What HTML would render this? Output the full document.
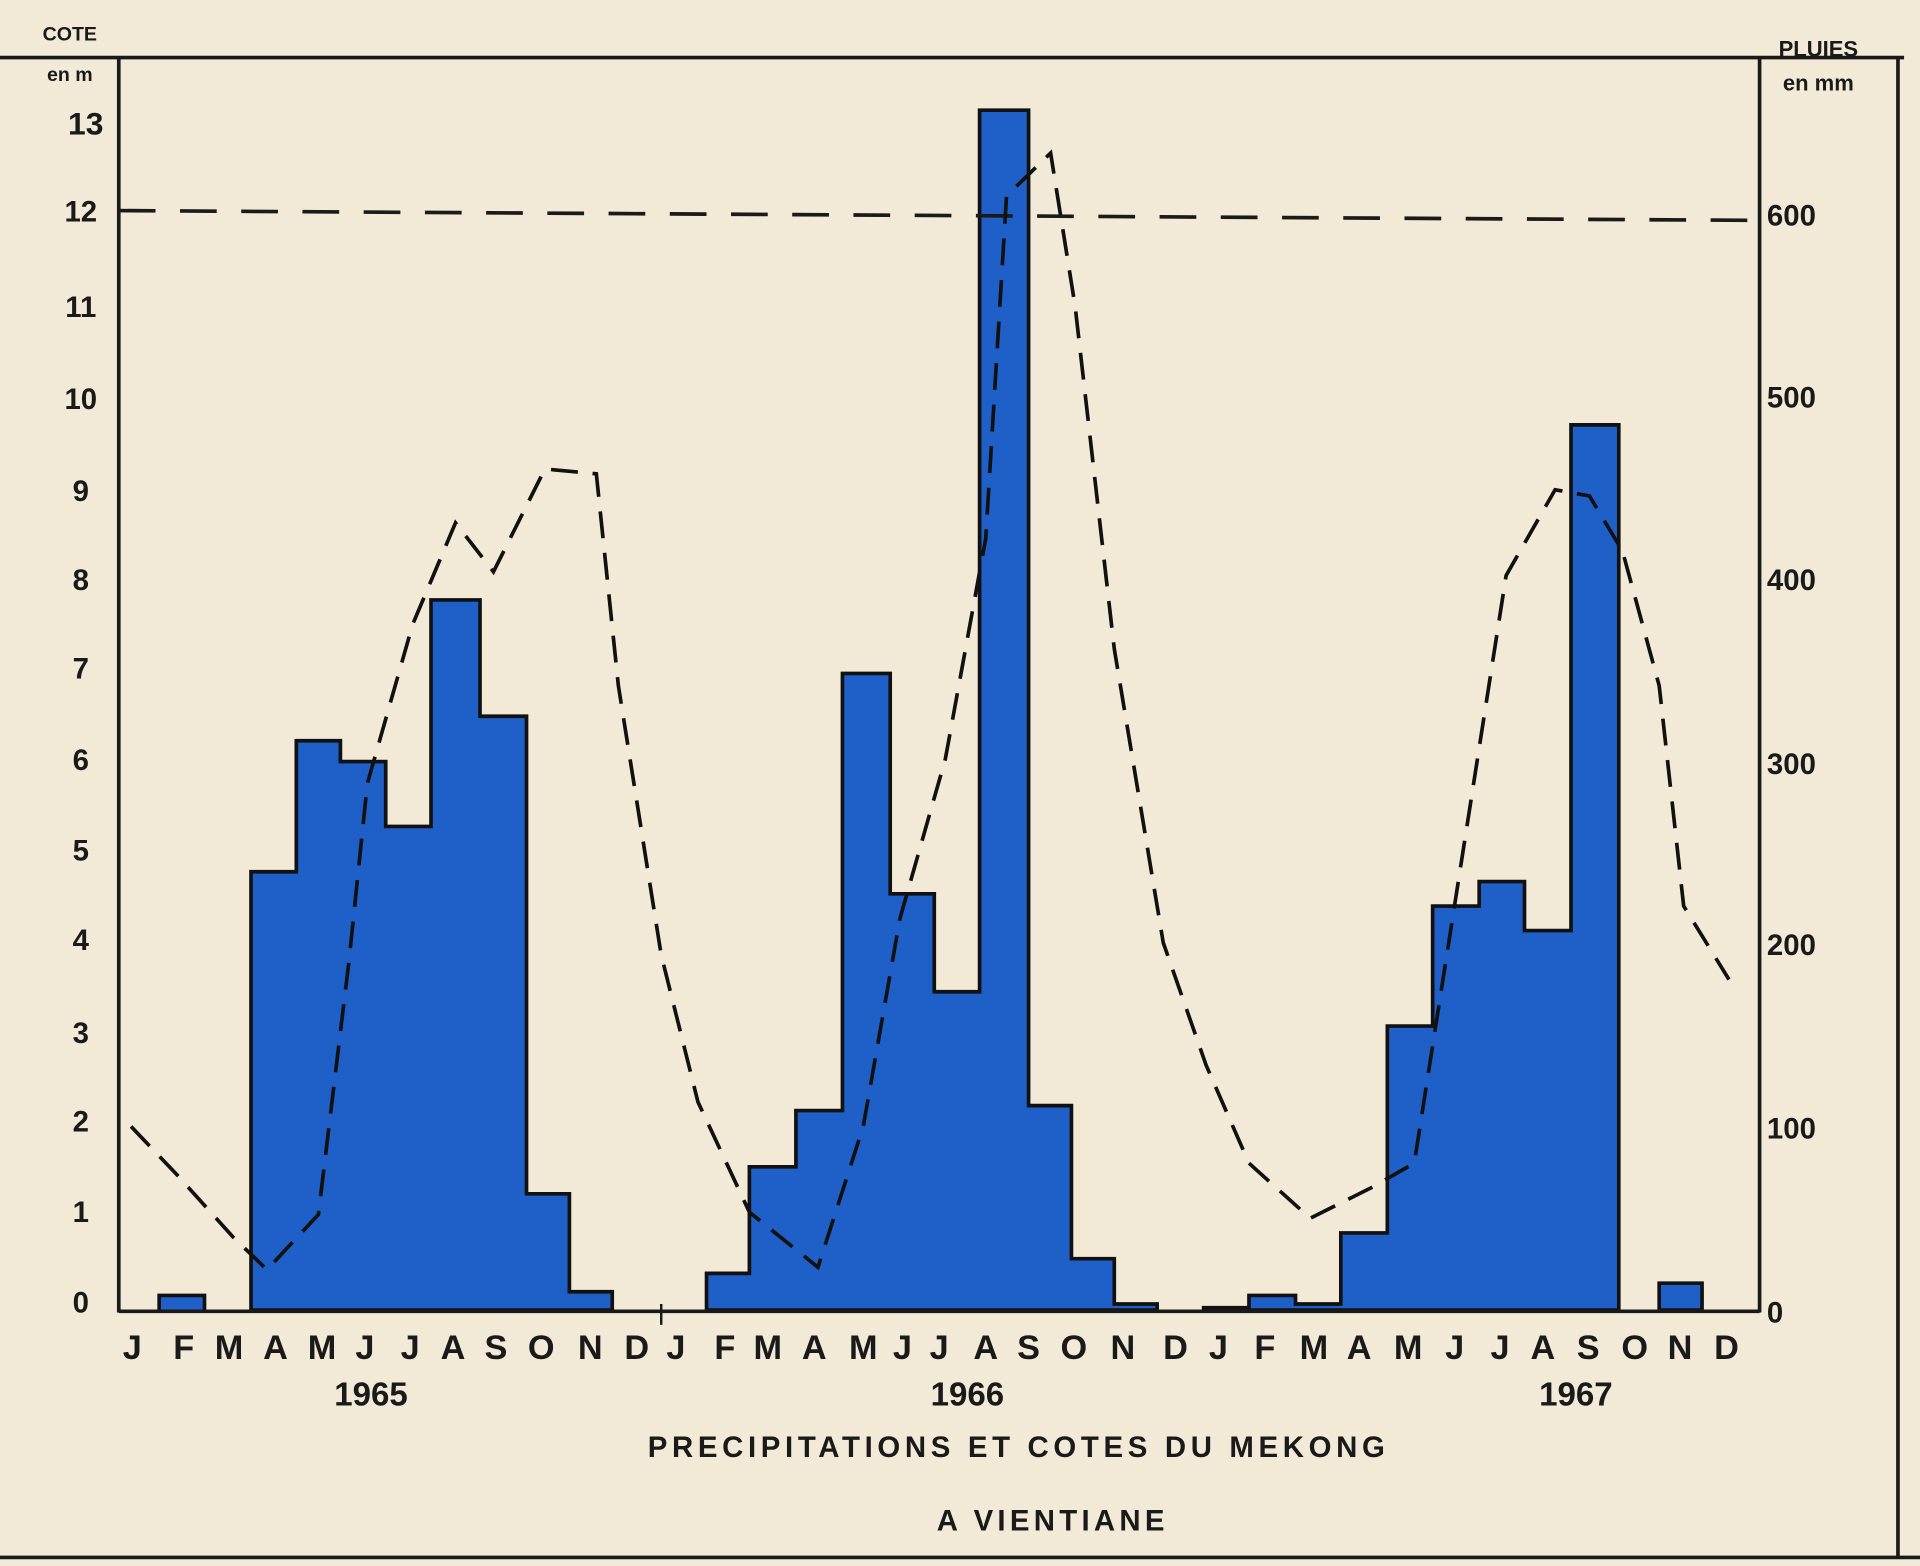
<!DOCTYPE html>
<html><head><meta charset="utf-8"><style>
html,body{margin:0;padding:0;background:#f2ead7;}
svg{display:block;}
text{font-family:"Liberation Sans",sans-serif;font-weight:bold;fill:#1a1a1a;}
</style></head><body>
<svg width="1920" height="1566" viewBox="0 0 1568 1279" preserveAspectRatio="none" xmlns="http://www.w3.org/2000/svg">
<rect width="1568" height="1279" fill="#f2ead7"/>
<g stroke="#1a1a1a" stroke-width="3" fill="none">
<line x1="0" y1="47" x2="1555" y2="47"/>
<line x1="97" y1="47" x2="97" y2="1072"/>
<line x1="1437" y1="47" x2="1437" y2="1072"/>
<line x1="1550" y1="47" x2="1550" y2="1272"/>
<line x1="0" y1="1272" x2="1568" y2="1272"/>
</g>
<g fill="#1f5fc8" stroke="#111" stroke-width="3">
<path d="M130,1070 V1058 H167 V1070"/>
<path d="M205,1070 V712 H242 V605 H278 V622 H315 V675 H352 V490 H392 V585 H430 V975 H465 V1055 H500 V1070 Z"/>
<path d="M577,1070 V1040 H612 V953 H650 V907 H688 V550 H727 V730 H763 V810 H800 V90 H840 V903 H875 V1028 H910 V1065 H945 V1070 Z"/>
<path d="M983,1070 V1068 H1020 V1058 H1058 V1065 H1095 V1007 H1133 V838 H1170 V740 H1208 V720 H1245 V760 H1283 V347 H1322 V1070 Z"/>
<path d="M1355,1070 V1048 H1390 V1070 Z"/>
</g>
<line x1="97" y1="1071" x2="1437" y2="1071" stroke="#1a1a1a" stroke-width="3"/>
<line x1="540" y1="1065" x2="540" y2="1082" stroke="#1a1a1a" stroke-width="2"/>
<line x1="97" y1="172" x2="1437" y2="180" stroke="#1a1a1a" stroke-width="3" stroke-dasharray="30,20"/>
<polyline fill="none" stroke="#111" stroke-width="3" stroke-dasharray="22,12" points="107,920 145,960 190,1010 218,1037 260,992 285,785 300,640 337,510 372,427 403,467 445,383 487,387 505,560 540,780 570,900 612,990 668,1035 705,920 735,750 772,620 805,440 822,160 858,125 878,250 910,530 950,770 985,870 1020,950 1070,995 1120,970 1155,950 1230,470 1270,400 1298,405 1325,450 1355,560 1375,740 1412,800"/>
<g font-size="24" text-anchor="middle">
<text x="66" y="1072">0</text><text x="66" y="998">1</text><text x="66" y="924">2</text><text x="66" y="852">3</text>
<text x="66" y="776">4</text><text x="66" y="703">5</text><text x="66" y="629">6</text><text x="66" y="554">7</text>
<text x="66" y="482">8</text><text x="66" y="409">9</text><text x="66" y="334">10</text><text x="66" y="259">11</text>
<text x="66" y="181">12</text><text x="70" y="110" font-size="26">13</text>
</g>
<text x="57" y="33" font-size="16" text-anchor="middle">COTE</text>
<text x="57" y="66" font-size="16" text-anchor="middle">en m</text>
<text x="1485" y="46" font-size="18" text-anchor="middle">PLUIES</text>
<text x="1485" y="74" font-size="18" text-anchor="middle">en mm</text>
<g font-size="24">
<text x="1443" y="1080">0</text><text x="1443" y="930">100</text><text x="1443" y="780">200</text><text x="1443" y="632">300</text>
<text x="1443" y="482">400</text><text x="1443" y="333">500</text><text x="1443" y="184">600</text>
</g>
<g font-size="28" text-anchor="middle">
<text x="108" y="1110">J</text><text x="150" y="1110">F</text><text x="187" y="1110">M</text><text x="225" y="1110">A</text><text x="263" y="1110">M</text><text x="298" y="1110">J</text><text x="335" y="1110">J</text><text x="370" y="1110">A</text><text x="405" y="1110">S</text><text x="442" y="1110">O</text><text x="482" y="1110">N</text><text x="520" y="1110">D</text>
<text x="552" y="1110">J</text><text x="592" y="1110">F</text><text x="627" y="1110">M</text><text x="665" y="1110">A</text><text x="705" y="1110">M</text><text x="737" y="1110">J</text><text x="767" y="1110">J</text><text x="805" y="1110">A</text><text x="840" y="1110">S</text><text x="877" y="1110">O</text><text x="917" y="1110">N</text><text x="960" y="1110">D</text>
<text x="995" y="1110">J</text><text x="1033" y="1110">F</text><text x="1073" y="1110">M</text><text x="1110" y="1110">A</text><text x="1150" y="1110">M</text><text x="1188" y="1110">J</text><text x="1225" y="1110">J</text><text x="1260" y="1110">A</text><text x="1297" y="1110">S</text><text x="1335" y="1110">O</text><text x="1372" y="1110">N</text><text x="1410" y="1110">D</text>
</g>
<g font-size="27" text-anchor="middle">
<text x="303" y="1148">1965</text><text x="790" y="1148">1966</text><text x="1287" y="1148">1967</text>
</g>
<text x="830" y="1190" font-size="24" text-anchor="middle" textLength="602" lengthAdjust="spacing">PRECIPITATIONS  ET  COTES  DU  MEKONG</text>
<text x="858" y="1250" font-size="24" text-anchor="middle" textLength="186" lengthAdjust="spacing">A  VIENTIANE</text>
</svg>
</body></html>
